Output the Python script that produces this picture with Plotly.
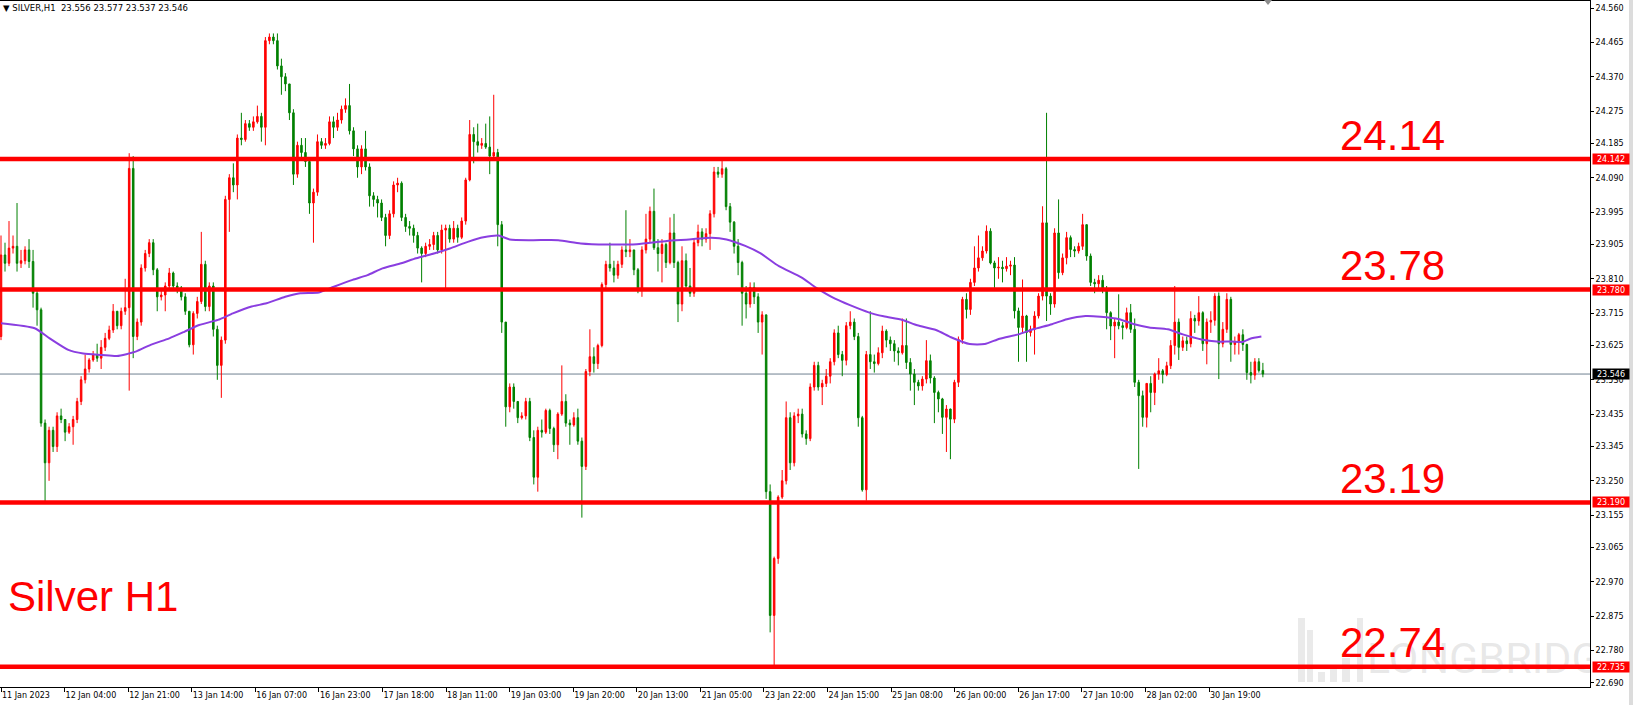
import numpy as np
import plotly.graph_objects as go

# ---------------- data ----------------
symbol = "SILVER,H1"
header_ohlc = [23.556, 23.577, 23.537, 23.546]

opens = [
    23.65, 23.876, 23.853, 23.895, 23.90, 23.853, 23.86, 23.89, 23.858, 23.77,
    23.724, 23.41, 23.30, 23.39, 23.345, 23.43, 23.42, 23.385, 23.40, 23.42,
    23.47, 23.53, 23.56, 23.585, 23.60, 23.59, 23.62, 23.645, 23.668, 23.72,
    23.68, 23.72, 23.73, 24.116, 23.65, 23.69, 23.84, 23.88, 23.91, 23.835,
    23.76, 23.765, 23.79, 23.826, 23.79, 23.785, 23.76, 23.72, 23.627, 23.714,
    23.747, 23.85, 23.733, 23.79, 23.67, 23.57, 23.64, 24.03, 24.09, 24.07,
    24.20, 24.196, 24.24, 24.23, 24.245, 24.26, 24.23, 24.47, 24.48, 24.47,
    24.40, 24.37, 24.35, 24.27, 24.10, 24.18, 24.16, 24.135, 24.02, 24.05,
    24.19, 24.18, 24.185, 24.245, 24.23, 24.25, 24.28, 24.29, 24.22, 24.17,
    24.12, 24.17, 24.12, 24.04, 24.03, 24.02, 23.98, 23.93, 23.99, 24.07,
    24.075, 23.98, 23.955, 23.95, 23.93, 23.895, 23.88, 23.90, 23.905, 23.93,
    23.89, 23.945, 23.95, 23.92, 23.95, 23.925, 23.97, 24.084, 24.21, 24.19,
    24.18, 24.185, 24.175, 24.15, 24.16, 23.96, 23.69, 23.455, 23.51, 23.47,
    23.425, 23.43, 23.47, 23.37, 23.26, 23.39, 23.385, 23.445, 23.395, 23.35,
    23.435, 23.47, 23.41, 23.405, 23.425, 23.36, 23.29, 23.553, 23.594, 23.575,
    23.625, 23.794, 23.85, 23.84, 23.82, 23.85, 23.89, 23.885, 23.89, 23.835,
    23.78, 23.89, 23.92, 23.997, 23.896, 23.88, 23.905, 23.855, 23.937, 23.855,
    23.74, 23.86, 23.79, 23.77, 23.91, 23.94, 23.92, 23.935, 23.99, 24.106,
    24.10, 24.115, 24.01, 23.967, 23.90, 23.855, 23.77, 23.74, 23.786, 23.76,
    23.69, 23.71, 23.22, 22.877, 23.035, 23.205, 23.25, 23.425, 23.30, 23.43,
    23.435, 23.38, 23.367, 23.51, 23.57, 23.51, 23.52, 23.54, 23.58, 23.66,
    23.60, 23.584, 23.68, 23.69, 23.65, 23.425, 23.225, 23.60, 23.58, 23.575,
    23.605, 23.665, 23.64, 23.63, 23.61, 23.605, 23.625, 23.578, 23.546, 23.523,
    23.513, 23.532, 23.583, 23.535, 23.495, 23.477, 23.426, 23.449, 23.421, 23.523,
    23.642, 23.753, 23.725, 23.80, 23.84, 23.868, 23.887, 23.942, 23.854, 23.84,
    23.842, 23.838, 23.845, 23.848, 23.721, 23.675, 23.707, 23.661, 23.67, 23.707,
    23.762, 23.965, 23.762, 23.74, 23.937, 23.827, 23.868, 23.924, 23.891, 23.887,
    23.90, 23.96, 23.873, 23.80, 23.796, 23.806, 23.78, 23.716, 23.679, 23.69,
    23.68, 23.675, 23.716, 23.67, 23.523, 23.486, 23.426, 23.52, 23.495, 23.546,
    23.555, 23.545, 23.569, 23.625, 23.69, 23.62, 23.638, 23.63, 23.70, 23.693,
    23.716, 23.63, 23.69, 23.695, 23.762, 23.63, 23.67, 23.753, 23.628, 23.636,
    23.655, 23.628, 23.55, 23.543, 23.58, 23.556,
]

highs = [
    23.93, 23.91, 23.97, 23.93, 24.02, 23.89, 23.90, 23.92, 23.89, 23.78,
    23.73, 23.42, 23.40, 23.40, 23.44, 23.45, 23.42, 23.41, 23.43, 23.48,
    23.54, 23.60, 23.59, 23.61, 23.63, 23.64, 23.66, 23.68, 23.74, 23.72,
    23.73, 23.81, 24.158, 24.15, 23.70, 23.85, 23.89, 23.92, 23.92, 23.84,
    23.78, 23.80, 23.84, 23.83, 23.80, 23.79, 23.77, 23.72, 23.72, 23.76,
    23.94, 23.86, 23.80, 23.80, 23.68, 23.65, 24.04, 24.10, 24.13, 24.21,
    24.27, 24.25, 24.25, 24.26, 24.29, 24.27, 24.48, 24.49, 24.49, 24.49,
    24.42, 24.38, 24.35, 24.28, 24.19, 24.20, 24.20, 24.14, 24.06, 24.21,
    24.20, 24.20, 24.26, 24.26, 24.27, 24.29, 24.31, 24.35, 24.23, 24.18,
    24.18, 24.22, 24.13, 24.05, 24.04, 24.03, 23.99, 24.00, 24.08, 24.09,
    24.08, 23.99, 23.97, 23.96, 23.94, 23.90, 23.91, 23.92, 23.94, 23.94,
    23.96, 23.96, 23.96, 23.97, 23.96, 23.98, 24.09, 24.25, 24.23, 24.24,
    24.20, 24.24, 24.26, 24.32, 24.17, 23.97, 23.69, 23.52, 23.52, 23.47,
    23.44, 23.48, 23.48, 23.39, 23.40, 23.42, 23.45, 23.45, 23.40, 23.44,
    23.57, 23.49, 23.42, 23.44, 23.45, 23.37, 23.56, 23.67, 23.62, 23.63,
    23.80, 23.86, 23.91, 23.86, 23.86, 23.90, 24.00, 23.92, 23.89, 23.84,
    23.90, 23.99, 24.01, 24.06, 23.92, 23.92, 23.91, 23.98, 23.99, 23.86,
    23.90, 23.88, 23.84, 23.92, 23.96, 23.95, 23.95, 24.00, 24.12, 24.12,
    24.14, 24.12, 24.02, 23.97, 23.92, 23.86, 23.79, 23.80, 23.80, 23.77,
    23.72, 23.71, 23.24, 23.04, 23.21, 23.28, 23.47, 23.44, 23.44, 23.45,
    23.45, 23.39, 23.52, 23.58, 23.58, 23.53, 23.56, 23.59, 23.67, 23.68,
    23.61, 23.69, 23.72, 23.70, 23.66, 23.43, 23.61, 23.72, 23.60, 23.62,
    23.68, 23.67, 23.65, 23.64, 23.62, 23.70, 23.70, 23.59, 23.56, 23.53,
    23.54, 23.64, 23.60, 23.54, 23.50, 23.48, 23.46, 23.45, 23.53, 23.65,
    23.76, 23.77, 23.81, 23.90, 23.93, 23.90, 23.958, 23.95, 23.86, 23.87,
    23.86, 23.87, 23.86, 23.87, 23.73, 23.808, 23.71, 23.68, 23.72, 23.77,
    24.011, 24.27, 23.77, 23.95, 24.03, 23.88, 23.94, 23.93, 23.90, 23.91,
    23.99, 23.96, 23.88, 23.81, 23.82, 23.82, 23.79, 23.72, 23.70, 23.767,
    23.69, 23.73, 23.74, 23.70, 23.53, 23.50, 23.52, 23.54, 23.55, 23.59,
    23.56, 23.58, 23.64, 23.79, 23.70, 23.65, 23.65, 23.72, 23.71, 23.762,
    23.72, 23.70, 23.72, 23.77, 23.772, 23.69, 23.77, 23.76, 23.65, 23.66,
    23.67, 23.63, 23.58, 23.59, 23.59, 23.577,
]

lows = [
    23.64, 23.83, 23.845, 23.88, 23.83, 23.84, 23.85, 23.84, 23.73, 23.68,
    23.40, 23.19, 23.25, 23.33, 23.33, 23.41, 23.36, 23.38, 23.35, 23.41,
    23.46, 23.52, 23.55, 23.58, 23.58, 23.56, 23.61, 23.64, 23.66, 23.67,
    23.67, 23.71, 23.50, 23.59, 23.64, 23.68, 23.83, 23.87, 23.82, 23.72,
    23.75, 23.72, 23.78, 23.78, 23.77, 23.75, 23.71, 23.62, 23.60, 23.70,
    23.74, 23.72, 23.72, 23.65, 23.53, 23.48, 23.63, 23.94, 24.05, 24.03,
    24.18, 24.19, 24.22, 24.22, 24.24, 24.19, 24.18, 24.46, 24.46, 24.39,
    24.32, 24.33, 24.25, 24.07, 24.09, 24.14, 24.12, 23.99, 23.91, 24.04,
    24.17, 24.17, 24.18, 24.20, 24.22, 24.24, 24.27, 24.21, 24.15, 24.09,
    24.10, 24.11, 24.01, 24.01, 23.98, 23.97, 23.90, 23.92, 23.98, 24.05,
    23.97, 23.94, 23.93, 23.91, 23.88, 23.80, 23.87, 23.89, 23.89, 23.88,
    23.88, 23.78, 23.91, 23.91, 23.91, 23.92, 23.96, 24.08, 24.13, 24.16,
    24.17, 24.17, 24.10, 24.14, 23.90, 23.66, 23.40, 23.44, 23.45, 23.41,
    23.42, 23.42, 23.36, 23.24, 23.22, 23.37, 23.38, 23.38, 23.33, 23.31,
    23.43, 23.40, 23.35, 23.40, 23.35, 23.148, 23.28, 23.54, 23.55, 23.56,
    23.62, 23.78, 23.83, 23.80, 23.81, 23.84, 23.87, 23.87, 23.82, 23.77,
    23.76, 23.88, 23.91, 23.89, 23.83, 23.80, 23.84, 23.85, 23.84, 23.69,
    23.72, 23.78, 23.76, 23.76, 23.90, 23.90, 23.91, 23.89, 23.98, 24.09,
    24.09, 24.00, 23.94, 23.88, 23.82, 23.68, 23.70, 23.73, 23.74, 23.66,
    23.60, 23.20, 22.83, 22.735, 23.02, 23.20, 23.24, 23.28, 23.29, 23.41,
    23.37, 23.35, 23.36, 23.50, 23.50, 23.46, 23.51, 23.52, 23.57, 23.59,
    23.54, 23.57, 23.67, 23.64, 23.40, 23.22, 23.195, 23.56, 23.55, 23.57,
    23.59, 23.62, 23.61, 23.58, 23.57, 23.60, 23.56, 23.50, 23.46, 23.50,
    23.50, 23.52, 23.52, 23.41, 23.44, 23.38, 23.33, 23.31, 23.41, 23.51,
    23.63, 23.70, 23.71, 23.79, 23.83, 23.86, 23.88, 23.85, 23.785, 23.81,
    23.80, 23.83, 23.82, 23.70, 23.58, 23.66, 23.58, 23.65, 23.60, 23.70,
    23.75, 23.693, 23.71, 23.73, 23.81, 23.82, 23.85, 23.87, 23.87, 23.88,
    23.89, 23.86, 23.79, 23.77, 23.78, 23.77, 23.67, 23.64, 23.59, 23.67,
    23.642, 23.67, 23.66, 23.51, 23.283, 23.40, 23.398, 23.44, 23.46, 23.53,
    23.52, 23.54, 23.56, 23.60, 23.585, 23.61, 23.61, 23.62, 23.66, 23.68,
    23.61, 23.573, 23.66, 23.68, 23.532, 23.62, 23.66, 23.58, 23.60, 23.60,
    23.61, 23.53, 23.52, 23.53, 23.55, 23.537,
]

closes = [
    23.876, 23.853, 23.895, 23.90, 23.853, 23.86, 23.89, 23.858, 23.77, 23.724,
    23.41, 23.30, 23.39, 23.345, 23.43, 23.42, 23.385, 23.40, 23.42, 23.47,
    23.53, 23.56, 23.585, 23.60, 23.59, 23.62, 23.645, 23.668, 23.72, 23.68,
    23.72, 23.73, 24.116, 23.65, 23.69, 23.84, 23.88, 23.91, 23.835, 23.76,
    23.765, 23.79, 23.826, 23.79, 23.785, 23.76, 23.72, 23.627, 23.714, 23.747,
    23.85, 23.733, 23.79, 23.67, 23.57, 23.64, 24.03, 24.09, 24.07, 24.20,
    24.196, 24.24, 24.23, 24.245, 24.26, 24.23, 24.47, 24.48, 24.47, 24.40,
    24.37, 24.35, 24.27, 24.10, 24.18, 24.16, 24.135, 24.02, 24.05, 24.19,
    24.18, 24.185, 24.245, 24.23, 24.25, 24.28, 24.29, 24.22, 24.17, 24.12,
    24.17, 24.12, 24.04, 24.03, 24.02, 23.98, 23.93, 23.99, 24.07, 24.075,
    23.98, 23.955, 23.95, 23.93, 23.895, 23.88, 23.90, 23.905, 23.93, 23.89,
    23.945, 23.95, 23.92, 23.95, 23.925, 23.97, 24.084, 24.21, 24.19, 24.18,
    24.185, 24.175, 24.15, 24.16, 23.96, 23.69, 23.455, 23.51, 23.47, 23.425,
    23.43, 23.47, 23.37, 23.26, 23.39, 23.385, 23.445, 23.395, 23.35, 23.435,
    23.47, 23.41, 23.405, 23.425, 23.36, 23.29, 23.553, 23.594, 23.575, 23.625,
    23.794, 23.85, 23.84, 23.82, 23.85, 23.89, 23.885, 23.89, 23.835, 23.78,
    23.89, 23.92, 23.997, 23.896, 23.88, 23.905, 23.855, 23.937, 23.855, 23.74,
    23.86, 23.79, 23.77, 23.91, 23.94, 23.92, 23.935, 23.99, 24.106, 24.10,
    24.115, 24.01, 23.967, 23.90, 23.855, 23.77, 23.74, 23.786, 23.76, 23.69,
    23.71, 23.22, 22.877, 23.035, 23.205, 23.25, 23.425, 23.30, 23.43, 23.435,
    23.38, 23.367, 23.51, 23.57, 23.51, 23.52, 23.54, 23.58, 23.66, 23.60,
    23.584, 23.68, 23.69, 23.65, 23.425, 23.225, 23.60, 23.58, 23.575, 23.605,
    23.665, 23.64, 23.63, 23.61, 23.605, 23.625, 23.578, 23.546, 23.523, 23.513,
    23.532, 23.583, 23.535, 23.495, 23.477, 23.426, 23.449, 23.421, 23.523, 23.642,
    23.753, 23.725, 23.80, 23.84, 23.868, 23.887, 23.942, 23.854, 23.84, 23.842,
    23.838, 23.845, 23.848, 23.721, 23.675, 23.707, 23.661, 23.67, 23.707, 23.762,
    23.965, 23.762, 23.74, 23.937, 23.827, 23.868, 23.924, 23.891, 23.887, 23.90,
    23.96, 23.873, 23.80, 23.796, 23.806, 23.78, 23.716, 23.679, 23.69, 23.68,
    23.675, 23.716, 23.67, 23.523, 23.486, 23.426, 23.52, 23.495, 23.546, 23.555,
    23.545, 23.569, 23.625, 23.69, 23.62, 23.638, 23.63, 23.70, 23.693, 23.716,
    23.63, 23.69, 23.695, 23.762, 23.63, 23.67, 23.753, 23.628, 23.636, 23.655,
    23.628, 23.55, 23.543, 23.58, 23.556, 23.546,
]

# moving average (purple line): hourly-bar index -> value
ma_bars = [0, 9, 13, 18, 22, 27, 31, 36, 40, 45, 49, 53, 58, 62, 67, 71, 76, 80, 85, 89,
           94, 98, 102, 107, 111, 116, 120, 125, 129, 133, 136, 142, 149, 155, 162, 170,
           178, 184, 190, 194, 199, 203, 208, 214, 218, 223, 227, 232, 236, 241, 245, 250,
           254, 259, 263, 267, 272, 276, 281, 285, 290, 294, 299, 303, 307, 312, 316, 321,
           325, 329, 332, 334, 337]
ma_values = [23.687, 23.673, 23.645, 23.613, 23.603, 23.599, 23.596, 23.608, 23.627, 23.645,
             23.663, 23.682, 23.696, 23.714, 23.733, 23.742, 23.760, 23.770, 23.772, 23.788,
             23.807, 23.820, 23.839, 23.853, 23.867, 23.881, 23.894, 23.913, 23.925, 23.930,
             23.919, 23.917, 23.917, 23.908, 23.905, 23.906, 23.915, 23.919, 23.924, 23.919,
             23.901, 23.881, 23.845, 23.814, 23.785, 23.755, 23.737, 23.717, 23.706, 23.696,
             23.681, 23.668, 23.648, 23.629, 23.629, 23.644, 23.656, 23.670, 23.684, 23.698,
             23.707, 23.705, 23.698, 23.684, 23.675, 23.670, 23.656, 23.642, 23.636, 23.636,
             23.635, 23.644, 23.650]

levels = [24.142, 23.780, 23.190, 22.735]
level_texts = ["24.14", "23.78", "23.19", "22.74"]
current_price = 23.546

ytick_vals = [24.560, 24.465, 24.370, 24.275, 24.185, 24.090, 23.995, 23.905, 23.810,
              23.715, 23.625, 23.530, 23.435, 23.345, 23.250, 23.155, 23.065, 22.970,
              22.875, 22.780, 22.690]
xtick_labels = ["11 Jan 2023", "12 Jan 04:00", "12 Jan 21:00", "13 Jan 14:00", "16 Jan 07:00",
                "16 Jan 23:00", "17 Jan 18:00", "18 Jan 11:00", "19 Jan 03:00", "19 Jan 20:00",
                "20 Jan 13:00", "21 Jan 05:00", "23 Jan 22:00", "24 Jan 15:00", "25 Jan 08:00",
                "26 Jan 00:00", "26 Jan 17:00", "27 Jan 10:00", "28 Jan 02:00", "30 Jan 19:00"]
BARS_PER_LABEL = 17
LAST_BAR = 337.4      # index (in hourly bars) of the last candle in the window
chart_title = "Silver H1"
watermark = "LONGBRIDGE"

# ---------------- geometry / style ----------------
W, H = 1633, 705
PLOT_RIGHT = 1590
PLOT_TOP = 1
PLOT_BOTTOM = 687
PX_PER_BAR = 3.74
Y_TOP, Y_BOTTOM = 24.5799, 22.6786
RED = "#ff0000"
GREEN = "#008000"
SMALL = dict(family="DejaVu Sans", size=8, color="#000000")


def px_x(px):
    return px / PLOT_RIGHT


def px_y(py):
    return 1 - (py - PLOT_TOP) / (PLOT_BOTTOM - PLOT_TOP)


n = len(closes)
bar_x = np.arange(n) * (LAST_BAR / (n - 1))

fig = go.Figure()

# watermark, clipped by the plot area
fig.add_trace(go.Scatter(
    x=[px_x(1367)], y=[px_y(662)], xaxis="x2", yaxis="y2", mode="text",
    text=[watermark], textposition="middle right", cliponaxis=True,
    textfont=dict(family="Roboto", size=43, color="rgba(150,150,150,0.22)"),
    hoverinfo="skip", showlegend=False))

fig.add_trace(go.Candlestick(
    x=bar_x, open=opens, high=highs, low=lows, close=closes,
    increasing=dict(line=dict(color=RED, width=1), fillcolor=RED),
    decreasing=dict(line=dict(color=GREEN, width=1), fillcolor=GREEN),
    whiskerwidth=0, hoverinfo="skip", showlegend=False))

fig.add_trace(go.Scatter(
    x=ma_bars, y=ma_values, mode="lines",
    line=dict(color="#8a3ee0", width=2, shape="spline", smoothing=0.6),
    hoverinfo="skip", showlegend=False))

shapes = []
shapes.append(dict(type="line", xref="paper", yref="y", x0=0, x1=1,
                   y0=current_price, y1=current_price,
                   line=dict(color="#708090", width=1), layer="below"))
for lv in levels:
    shapes.append(dict(type="line", xref="paper", yref="y", x0=0, x1=1, y0=lv, y1=lv,
                       line=dict(color=RED, width=4.5), layer="above"))
# watermark logo bars
for (x0, x1, y0) in [(1298, 1305, 618), (1307, 1313, 630), (1318, 1325, 672),
                     (1330, 1337, 667), (1342, 1350, 658), (1357, 1363, 618)]:
    shapes.append(dict(type="rect", xref="paper", yref="paper",
                       x0=px_x(x0), x1=px_x(x1), y0=px_y(682), y1=px_y(y0),
                       fillcolor="rgba(150,150,150,0.2)", line=dict(width=0), layer="below"))
# right window border strip
shapes.append(dict(type="rect", xref="paper", yref="paper", x0=px_x(1629), x1=px_x(1640),
                   y0=px_y(720), y1=px_y(-10), fillcolor="#dcdcdc", line=dict(width=0)))
# small grey marker at top
shapes.append(dict(type="path", xref="paper", yref="paper",
                   path=f"M {px_x(1264)},{px_y(0)} L {px_x(1272)},{px_y(0)} L {px_x(1268)},{px_y(5)} Z",
                   fillcolor="#8c8c8c", line=dict(width=0)))

annotations = []
header = "▼ " + symbol + "\u00a0\u00a0" + " ".join(f"{v:.3f}" for v in header_ohlc)
annotations.append(dict(xref="paper", yref="paper", x=px_x(1), y=px_y(8), xanchor="left",
                        yanchor="middle", text=header, showarrow=False,
                        font=dict(family="DejaVu Sans", size=8.5, color="#000000")))
for lv, txt in zip(levels, level_texts):
    annotations.append(dict(xref="paper", yref="y", x=px_x(1338), y=lv, yshift=24,
                            xanchor="left", yanchor="middle", text=txt, showarrow=False,
                            font=dict(family="Liberation Sans, Arial", size=42, color=RED)))
    annotations.append(dict(xref="paper", yref="y", x=1, xshift=2, y=lv, xanchor="left",
                            yanchor="middle", text=f"{lv:.3f}", showarrow=False,
                            bgcolor=RED, width=36, height=10, borderpad=0,
                            font=dict(family="DejaVu Sans", size=8, color="#ffffff")))
annotations.append(dict(xref="paper", yref="y", x=1, xshift=2, y=current_price, xanchor="left",
                        yanchor="middle", text=f"{current_price:.3f}", showarrow=False,
                        bgcolor="#000000", width=36, height=10, borderpad=0,
                        font=dict(family="DejaVu Sans", size=8, color="#ffffff")))
annotations.append(dict(xref="paper", yref="paper", x=px_x(6), y=px_y(596), xanchor="left",
                        yanchor="middle", text=chart_title, showarrow=False,
                        font=dict(family="Liberation Sans, Arial", size=42, color=RED)))

fig.update_layout(
    width=W, height=H,
    margin=dict(l=0, r=W - PLOT_RIGHT, t=PLOT_TOP, b=H - PLOT_BOTTOM, pad=0, autoexpand=False),
    paper_bgcolor="#ffffff", plot_bgcolor="#ffffff",
    showlegend=False, boxgap=0.45,
    xaxis=dict(range=[-1 / PX_PER_BAR, (PLOT_RIGHT - 1) / PX_PER_BAR],
               tickvals=[BARS_PER_LABEL * k for k in range(len(xtick_labels))],
               ticktext=xtick_labels, ticks="outside", ticklen=4, tickcolor="#000000",
               ticklabelposition="outside right", tickfont=SMALL,
               showline=True, linecolor="#000000", linewidth=1, mirror=True,
               showgrid=False, zeroline=False, rangeslider=dict(visible=False),
               fixedrange=True),
    yaxis=dict(range=[Y_BOTTOM, Y_TOP], side="right",
               tickvals=ytick_vals, ticktext=[f"{v:.3f}" for v in ytick_vals],
               ticks="outside", ticklen=3, tickcolor="#000000", tickfont=SMALL,
               showline=True, linecolor="#000000", linewidth=1,
               showgrid=False, zeroline=False, fixedrange=True),
    xaxis2=dict(overlaying="x", anchor="y2", range=[0, 1], visible=False, fixedrange=True),
    yaxis2=dict(overlaying="y", anchor="x2", range=[0, 1], visible=False, fixedrange=True),
    shapes=shapes, annotations=annotations,
)

fig.write_html(
    "out.html",
    config={"displayModeBar": False, "staticPlot": True},
    post_script="document.body.style.margin='0';document.body.style.overflow='hidden';",
)
